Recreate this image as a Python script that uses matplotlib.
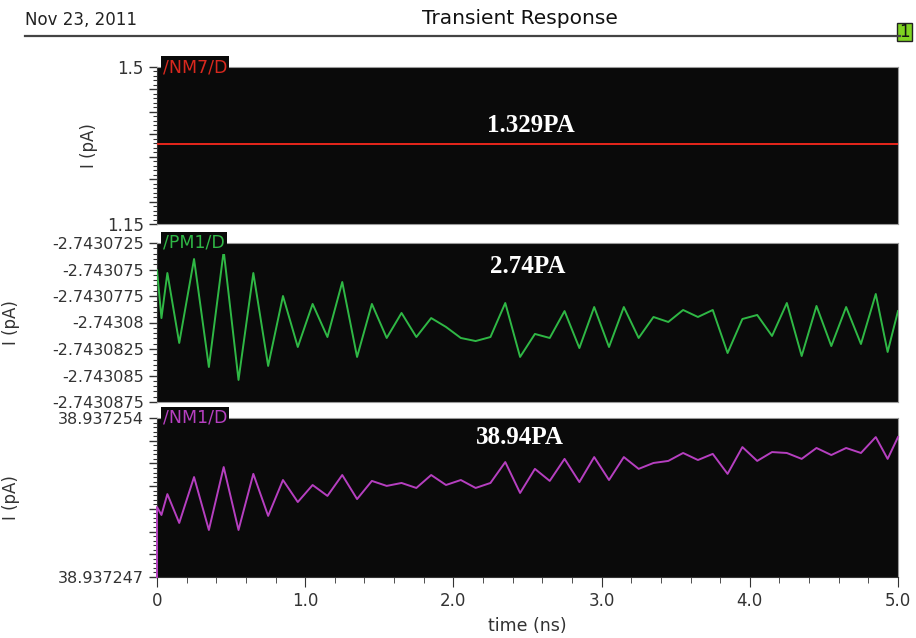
import matplotlib
matplotlib.use("Agg")
import matplotlib.pyplot as plt
from matplotlib.ticker import FixedLocator, MultipleLocator, AutoMinorLocator
from matplotlib.patches import Rectangle

# time axis (ns), shared by the PM1 and NM1 traces
t = [0.0, 0.03, 0.07, 0.15, 0.25, 0.35, 0.45, 0.55, 0.65, 0.75, 0.85, 0.95,
     1.05, 1.15, 1.25, 1.35, 1.45, 1.55, 1.65, 1.75, 1.85, 1.95, 2.05, 2.15,
     2.25, 2.35, 2.45, 2.55, 2.65, 2.75, 2.85, 2.95, 3.05, 3.15, 3.25, 3.35,
     3.45, 3.55, 3.65, 3.75, 3.85, 3.95, 4.05, 4.15, 4.25, 4.35, 4.45, 4.55,
     4.65, 4.75, 4.85, 4.93, 5.0]

# /NM7/D (flat)
t_nm7 = [0.0, 5.0]
i_nm7 = [1.329, 1.329]

# /PM1/D
i_pm1 = [-2.74307505, -2.74307958, -2.74307533, -2.74308193, -2.74307401,
         -2.74308420, -2.74307325, -2.74308542, -2.74307533, -2.74308410,
         -2.74307750, -2.74308231, -2.74307825, -2.74308137, -2.74307618,
         -2.74308325, -2.74307825, -2.74308146, -2.74307910, -2.74308137,
         -2.74307958, -2.74308042, -2.74308146, -2.74308175, -2.74308137,
         -2.74307816, -2.74308325, -2.74308108, -2.74308146, -2.74307892,
         -2.74308241, -2.74307854, -2.74308231, -2.74307854, -2.74308146,
         -2.74307948, -2.74307995, -2.74307882, -2.74307948, -2.74307882,
         -2.74308288, -2.74307967, -2.74307929, -2.74308127, -2.74307816,
         -2.74308316, -2.74307844, -2.74308222, -2.74307854, -2.74308203,
         -2.74307731, -2.74308278, -2.74307892]

# /NM1/D (starts from the bottom of the window at t=0)
t_nm1 = [0.0] + t
i_nm1 = [38.937247,
         38.93725008, 38.93724973, 38.93725065, 38.93724938, 38.93725140,
         38.93724907, 38.93725184, 38.93724907, 38.93725154, 38.93724969,
         38.93725127, 38.93725030, 38.93725105, 38.93725057, 38.93725149,
         38.93725043, 38.93725123, 38.93725101, 38.93725114, 38.93725092,
         38.93725149, 38.93725105, 38.93725127, 38.93725092, 38.93725114,
         38.93725206, 38.93725070, 38.93725176, 38.93725123, 38.93725220,
         38.93725118, 38.93725228, 38.93725127, 38.93725228, 38.93725176,
         38.93725202, 38.93725211, 38.93725246, 38.93725215, 38.93725242,
         38.93725154, 38.93725272, 38.93725211, 38.93725250, 38.93725246,
         38.93725220, 38.93725268, 38.93725237, 38.93725268, 38.93725246,
         38.93725316, 38.93725220, 38.93725316]

pm1_ticks = [-2.7430725, -2.743075, -2.7430775, -2.74308, -2.7430825, -2.743085, -2.7430875]
pm1_labels = ["-2.7430725", "-2.743075", "-2.7430775", "-2.74308", "-2.7430825", "-2.743085", "-2.7430875"]
x_ticks = [0, 1, 2, 3, 4, 5]
x_labels = ["0", "1.0", "2.0", "3.0", "4.0", "5.0"]

BG = "#0a0a0a"
TXT = "#333333"

fig = plt.figure(figsize=(9.16, 6.38), dpi=100)

L, W = 157 / 916, 741 / 916
ax1 = fig.add_axes([L, 1 - 224 / 638, W, 157 / 638])
ax2 = fig.add_axes([L, 1 - 402 / 638, W, 159 / 638])
ax3 = fig.add_axes([L, 1 - 577 / 638, W, 159 / 638])

def style(ax, fs=12):
    ax.set_facecolor(BG)
    ax.set_xlim(0, 5)
    for s in ax.spines.values():
        s.set_color("#9a9a9a")
        s.set_linewidth(0.8)
    ax.spines["left"].set_color(TXT)
    ax.tick_params(axis="y", which="major", length=6, color=TXT, labelsize=fs, labelcolor=TXT, width=1)
    ax.tick_params(axis="y", which="minor", length=3, color=TXT, width=0.8)
    ax.tick_params(axis="x", which="both", bottom=False, labelbottom=False)
    ax.set_ylabel("I (pA)", fontsize=12, color=TXT)

def tab(ax, name, col):
    ax.text(0.008, 1.0, name, transform=ax.transAxes, color=col, fontsize=12.5,
            va="center", ha="left",
            bbox=dict(boxstyle="square,pad=0.12", fc=BG, ec="none"))

def value_text(ax, x, y, s):
    ax.text(x, y, s, transform=ax.transAxes, color="white", fontsize=18,
            fontweight="bold", family="Liberation Serif", ha="center", va="center")

# panel 1
style(ax1)
ax1.plot(t_nm7, i_nm7, color="#e8261c", lw=1.4, zorder=3)
ax1.set_ylim(1.15, 1.5)
ax1.yaxis.set_major_locator(FixedLocator([1.15, 1.2, 1.25, 1.3, 1.35, 1.4, 1.45, 1.5]))
ax1.set_yticklabels(["1.15", "", "", "", "", "", "", "1.5"])
ax1.yaxis.set_minor_locator(AutoMinorLocator(5))
ax1.yaxis.set_label_coords(-0.08, 0.5)
tab(ax1, "/NM7/D", "#d8281e")
value_text(ax1, 0.505, 0.63, "1.329PA")

# panel 2
style(ax2, 11.5)
ax2.plot(t, i_pm1, color="#2fb845", lw=1.4, zorder=3)
ax2.set_ylim(-2.7430875, -2.7430725)
ax2.yaxis.set_major_locator(FixedLocator(pm1_ticks))
ax2.set_yticklabels(pm1_labels)
ax2.yaxis.set_minor_locator(FixedLocator([pm1_ticks[0] - k * 0.0000005 for k in range(31)]))
ax2.yaxis.set_label_coords(-0.185, 0.5)
tab(ax2, "/PM1/D", "#2fb845")
value_text(ax2, 0.5, 0.85, "2.74PA")

# panel 3
style(ax3, 11.5)
ax3.plot(t_nm1, i_nm1, color="#b63fc0", lw=1.4, zorder=3, clip_on=False)
ax3.set_ylim(38.937247, 38.937254)
nm1_major = [38.937247 + k * 0.000001 for k in range(8)]
ax3.yaxis.set_major_locator(FixedLocator(nm1_major))
ax3.set_yticklabels(["38.937247", "", "", "", "", "", "", "38.937254"])
ax3.yaxis.set_minor_locator(FixedLocator([38.937247 + k * 0.0000002 for k in range(36)]))
ax3.yaxis.set_label_coords(-0.185, 0.5)
tab(ax3, "/NM1/D", "#b63fc0")
value_text(ax3, 0.49, 0.88, "38.94PA")
ax3.tick_params(axis="x", which="both", bottom=True, labelbottom=True, color=TXT,
                labelcolor=TXT, labelsize=12)
ax3.tick_params(axis="x", which="major", length=7)
ax3.tick_params(axis="x", which="minor", length=4)
ax3.xaxis.set_major_locator(FixedLocator(x_ticks))
ax3.set_xticklabels(x_labels)
ax3.xaxis.set_minor_locator(MultipleLocator(0.2))
ax3.spines["bottom"].set_color(TXT)
ax3.set_xlabel("time (ns)", fontsize=12.5, color=TXT, labelpad=5)

# header
fig.text(25 / 916, 1 - 20 / 638, "Nov 23, 2011", fontsize=12, color="#222222", va="center")
fig.text(520 / 916, 1 - 18 / 638, "Transient Response", fontsize=14.5, color="#111111",
         va="center", ha="center")
fig.add_artist(plt.Line2D([25 / 916, 900 / 916], [1 - 36 / 638] * 2, color="#444444", lw=1.6))
fig.add_artist(Rectangle((897 / 916, 1 - 41 / 638), 15 / 916, 18 / 638, fc="#7ed321",
                         ec="#222222", lw=1, transform=fig.transFigure))
fig.text(904.5 / 916, 1 - 32 / 638, "1", fontsize=12, color="#111111", ha="center", va="center")

fig.savefig("out.png", dpi=100)
